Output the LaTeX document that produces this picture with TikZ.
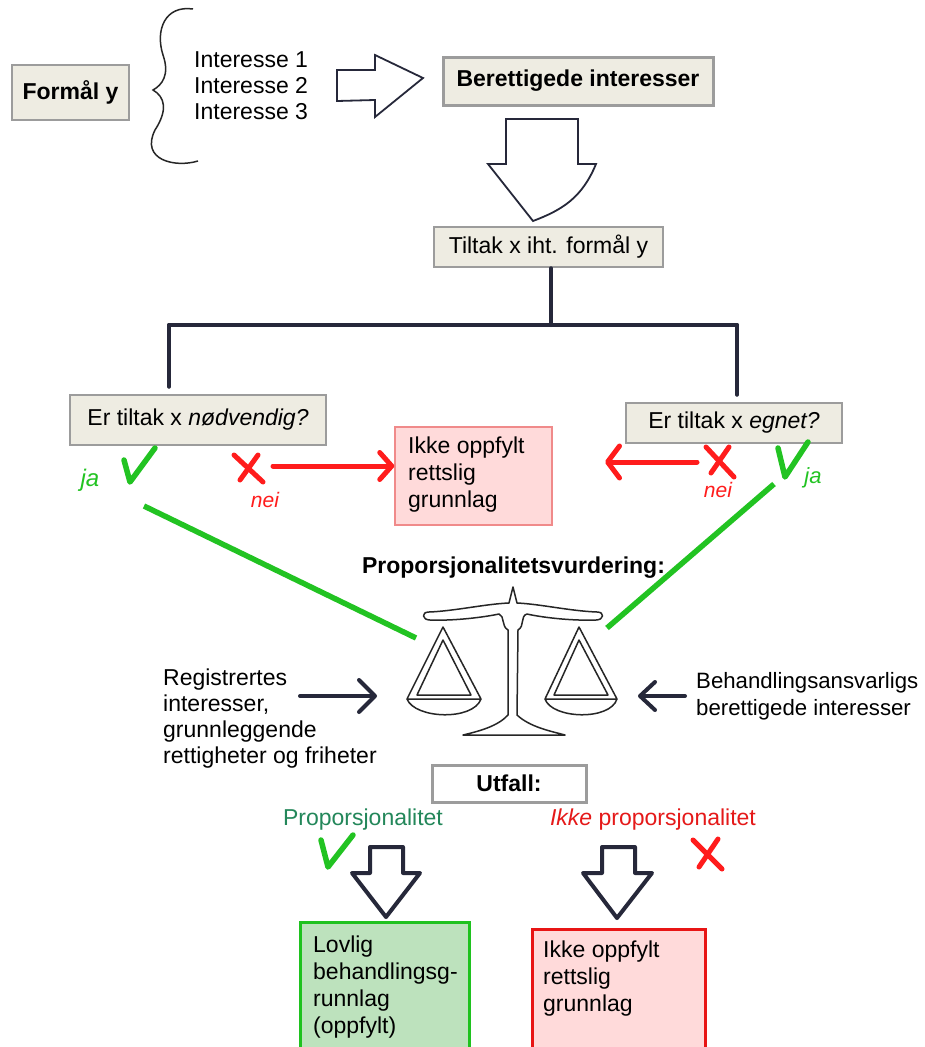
\documentclass[tikz,border=0pt]{standalone}
\usepackage{fontspec}
\setmainfont{Liberation Sans}
\usetikzlibrary{arrows.meta}
\definecolor{navy}{HTML}{26283A}
\definecolor{boxfill}{HTML}{EEECE2}
\definecolor{boxdraw}{HTML}{9C9C9C}
\definecolor{gline}{HTML}{22C322}
\definecolor{rline}{HTML}{FF1C1C}
\definecolor{tealg}{HTML}{23875A}
\definecolor{pinkfill}{HTML}{FFDADA}
\definecolor{pinkdraw}{HTML}{F08A8A}
\definecolor{greenfill}{HTML}{BDE2BD}
\definecolor{greendraw}{HTML}{1FC21F}
\definecolor{reddraw}{HTML}{E81515}
\tikzset{
  bbox/.style={draw=boxdraw, fill=boxfill, line width=2.5pt, inner sep=0pt, font=\fontsize{23}{26.5}\selectfont},
  txt/.style={inner sep=0pt, align=left, font=\fontsize{23}{26.5}\selectfont},
  navyline/.style={draw=navy, line width=4pt, line cap=round},
  gstroke/.style={draw=gline, line width=5.5pt, line cap=round, line join=round},
  rstroke/.style={draw=rline, line width=5pt, line cap=round, line join=round},
  hollow/.style={draw=navy, line width=1.8pt, fill=white, line join=miter},
  hollowb/.style={draw=navy, line width=4pt, fill=white, line join=round},
  hand/.style={inner sep=0pt, font=\fontsize{24}{24}\selectfont\itshape},
  scaleline/.style={draw=black!85, line width=1.5pt, line join=round}
}
\begin{document}
\begin{tikzpicture}[x=1pt,y=-1pt]
\useasboundingbox (0,0) rectangle (925,1047);
\fill[white] (0,0) rectangle (925,1047);

% top row
\node[bbox, minimum width=117pt, minimum height=55pt, font=\fontsize{23}{26.5}\selectfont\bfseries] (formal) at (70.5,92.5) {Formål y};
\draw[draw=black!85, line width=1.5pt] (193,9) .. controls (165,5) and (155,30) .. (163,55) .. controls (170,75) and (162,85) .. (153,90) .. controls (165,97) and (168,110) .. (155,130) .. controls (140,160) and (175,168) .. (198,161);
\node[txt, anchor=north west, font=\fontsize{23}{26}\selectfont] (inter) at (194,51.5) {Interesse 1\\Interesse 2\\Interesse 3};
\draw[hollow] (337,70) -- (375,70) -- (375,55) -- (423,78) -- (375,117) -- (375,100) -- (337,101) -- cycle;
\node[bbox, minimum width=270pt, minimum height=48pt, line width=3pt, font=\fontsize{23}{26.5}\selectfont\bfseries] (ber) at (578,81) {Berettigede interesser};
\draw[hollow] (506,119) -- (578,119) -- (578,164) -- (596,164) .. controls (582,198) and (562,210) .. (533,221) -- (488,164) -- (506,164) -- cycle;
\node[bbox, minimum width=229pt, minimum height=40pt] (tiltak) at (548.5,247) {Tiltak x iht. formål y};

% tree
\coordinate (tj) at (551,325);
\coordinate (jl) at (169,325);
\coordinate (jr) at (737,325);
\draw[navyline] (tiltak.south -| tj) -- (tj);
\draw[navyline] (jl) -- (jr);

\node[bbox, minimum width=256pt, minimum height=50pt] (nod) at (198,420) {Er tiltak x \textit{nødvendig?}};
\node[bbox, minimum width=216pt, minimum height=40pt] (egn) at (734,423) {Er tiltak x \textit{egnet?}};
\draw[navyline] (jl) -- ([yshift=7pt]nod.north -| jl);
\draw[navyline] (jr) -- ([yshift=7pt]egn.north -| jr);

% middle red box
\node[draw=pinkdraw, fill=pinkfill, line width=1.5pt, minimum width=157pt, minimum height=98pt, inner sep=0pt] (ikke1) at (473.5,476) {};
\node[txt, anchor=north west, font=\fontsize{23}{27}\selectfont] (ikke1t) at (408,436.3) {Ikke oppfylt\\rettslig\\grunnlag};

% left checks
\draw[gstroke] (124,460) -- (130,482) -- (155,448);
\node[hand, text=gline] (jaL) at (90,480) {ja};
\draw[rstroke] (234,455) -- (263,482);
\draw[rstroke] (258,455) -- (240,480);
\node[hand, text=rline, font=\fontsize{21}{21}\selectfont\itshape] (neiL) at (265,500) {nei};
\coordinate (raL1) at (273,466);
\draw[rstroke, -{Straight Barb[length=12pt, width=27pt, round]}] (raL1) -- (ikke1.west |- raL1);

% right checks
\coordinate (raR1) at (697,462);
\draw[rstroke, -{Straight Barb[length=12pt, width=32pt, round]}] (raR1) -- (605,462);
\draw[rstroke] (706,447) -- (734,477);
\draw[rstroke] (729,447) -- (711,473);
\node[hand, text=rline, font=\fontsize{21}{21}\selectfont\itshape] (neiR) at (718,490) {nei};
\draw[gstroke] (778,448) -- (785,477) -- (808,442);
\node[hand, text=gline, font=\fontsize{22}{22}\selectfont\itshape] (jaR) at (813,478) {ja};

% green lines to scale
\coordinate (sL) at (416,638);
\coordinate (sR) at (607,628);
\draw[draw=gline, line width=5.5pt] (144,506) -- (sL);
\draw[draw=gline, line width=5.5pt] (774,484) -- (sR);

\node[txt, font=\fontsize{23}{26.5}\selectfont\bfseries] (prop) at (513.5,568) {Proporsjonalitetsvurdering:};

% scale
\draw[scaleline, fill=white] (513,587) -- (517,603) .. controls (540,604) and (570,611) .. (597,612) .. controls (605,612) and (604,620) .. (596,620) .. controls (570,621) and (540,617) .. (527,614) .. controls (520,616) and (525,626) .. (518,630) -- (517,715) .. controls (530,727) and (550,731) .. (565,735) -- (463,735) .. controls (480,731) and (498,726) .. (508,715) -- (508,630) .. controls (501,626) and (505,616) .. (499,614) .. controls (485,617) and (455,621) .. (430,620) .. controls (422,620) and (421,612) .. (429,612) .. controls (455,611) and (485,604) .. (509,603) -- cycle;
\draw[scaleline] (443,627) -- (407,699) -- (481,699) -- cycle;
\draw[scaleline] (443,640) -- (417,695) -- (471,695) -- cycle;
\draw[scaleline] (407,699) .. controls (415,719) and (473,721) .. (481,699);
\draw[scaleline] (579,627) -- (545,699) -- (617,699) -- cycle;
\draw[scaleline] (579,640) -- (554,695) -- (608,695) -- cycle;
\draw[scaleline] (545,699) .. controls (552,719) and (610,721) .. (617,699);

% side texts
\node[txt, anchor=north west, font=\fontsize{23}{26}\selectfont] (reg) at (163,668.5) {Registrertes\\interesser,\\grunnleggende\\rettigheter og friheter};
\coordinate (aLs) at (300,696);
\coordinate (aLe) at (377,696);
\draw[navyline, -{Straight Barb[length=16pt, width=32pt, round]}] (aLs) -- (aLe);
\node[txt, anchor=north west, font=\fontsize{22.2}{27}\selectfont] (beh) at (696,672) {Behandlingsansvarligs\\berettigede interesser};
\coordinate (aRs) at (685,696);
\draw[navyline, -{Straight Barb[length=15pt, width=28pt, round]}] (aRs) -- (638,696);

% outcome
\node[draw=boxdraw, fill=white, line width=3pt, minimum width=154pt, minimum height=37pt, inner sep=0pt, font=\fontsize{23}{26.5}\selectfont\bfseries] (utfall) at (509,783.5) {Utfall:};
\node[txt, text=tealg] (pj) at (363,820) {Proporsjonalitet};
\node[txt, text=rline!90!black] (pn) at (653,820) {\textit{Ikke} proporsjonalitet};
\draw[gstroke] (321,840) -- (328,867) -- (353,835);
\draw[rstroke] (693,840) -- (722,869);
\draw[rstroke] (718,839) -- (699,867);

\draw[hollowb] (370,847) -- (403,847) -- (403,873) -- (420,873) -- (386,917) -- (352,873) -- (370,873) -- cycle;
\draw[hollowb] (602,847) -- (635,847) -- (635,873) -- (652,873) -- (617,918) -- (583,873) -- (602,873) -- cycle;

\node[draw=greendraw, fill=greenfill, line width=3pt, minimum width=169pt, minimum height=129pt, inner sep=0pt, anchor=north west] (lov) at (299,921) {};
\node[txt, anchor=north west, font=\fontsize{23}{27}\selectfont] (lovt) at (313,935.3) {Lovlig\\behandlingsg-\\runnlag\\(oppfylt)};
\node[draw=reddraw, fill=pinkfill, line width=3pt, minimum width=173pt, minimum height=122pt, inner sep=0pt, anchor=north west] (ikke2) at (531,928) {};
\node[txt, anchor=north west, font=\fontsize{23}{27}\selectfont] (ikke2t) at (543,940.3) {Ikke oppfylt\\rettslig\\grunnlag};
\end{tikzpicture}
\end{document}
